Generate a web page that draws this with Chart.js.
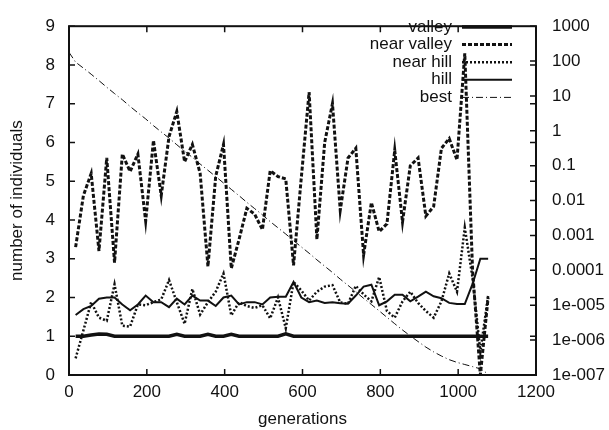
<!DOCTYPE html>
<html>
<head>
<meta charset="utf-8">
<script src="https://cdn.jsdelivr.net/npm/chart.js@4.4.1/dist/chart.umd.min.js"></script>
<style>
  html, body { margin: 0; padding: 0; background: #fff; }
</style>
</head>
<body>
<canvas id="c" width="609" height="430"></canvas>
<script>
// sampled generations (shared by the four population curves)
const generations = [17, 37, 57, 77, 97, 117, 137, 157, 177, 197, 217, 237, 257, 277, 297, 317, 337, 357,
  377, 397, 417, 437, 457, 477, 497, 517, 537, 557, 577, 597, 617, 637, 657, 677, 697, 717,
  737, 757, 777, 797, 817, 837, 857, 877, 897, 917, 937, 957, 977, 997, 1017, 1037, 1057, 1077];

const valley = [1, 1, 1.03, 1.06, 1.05, 1, 1, 1, 1, 1, 1, 1, 1, 1.05, 1, 1, 1, 1.05, 1, 1,
  1.05, 1, 1, 1, 1, 1, 1, 1.06, 1, 1, 1, 1, 1, 1, 1, 1, 1, 1, 1, 1,
  1, 1, 1, 1, 1, 1, 1, 1, 1, 1, 1, 1, 1, 1];

const nearValley = [3.3, 4.63, 5.2, 3.2, 5.6, 2.9, 5.7, 5.25, 5.7, 3.97, 6.05, 4.63, 6.15, 6.8, 5.5, 5.95, 5.2, 2.8,
  5.13, 5.95, 2.75, 3.5, 4.3, 4.15, 3.75, 5.27, 5.12, 5.06, 2.83, 5.1, 7.3, 3.5, 6.0, 7.0, 4.25, 5.6,
  5.85, 3.1, 4.45, 3.7, 3.9, 5.8, 3.95, 5.4, 5.6, 4.1, 4.35, 5.85, 6.1, 5.55, 8.3, 2.7, 0, 2.0];

const nearHill = [0.43, 1.15, 1.88, 1.48, 1.4, 2.34, 1.27, 1.25, 1.82, 1.8, 1.88, 1.95, 2.45, 1.88, 1.32, 2.22, 1.56, 1.88,
  2.15, 2.62, 1.54, 1.88, 1.78, 1.73, 1.8, 1.46, 2.0, 1.21, 2.4, 2.18, 1.92, 2.15, 2.28, 2.32, 1.87, 1.84,
  2.3, 2.08, 1.9, 2.53, 1.65, 1.48, 1.9, 2.15, 1.86, 1.65, 1.48, 1.9, 2.62, 2.15, 3.8, 2.5, 0.6, 2.05];

const hill = [1.55, 1.7, 1.78, 1.97, 2.0, 2.0, 1.82, 1.67, 1.82, 2.05, 1.88, 1.88, 1.75, 1.97, 1.82, 2.05, 1.92, 1.92,
  1.78, 2.0, 2.05, 1.82, 1.88, 1.88, 1.82, 2.0, 2.02, 2.02, 2.4, 2.0, 1.88, 1.92, 1.86, 1.88, 1.85, 1.84,
  2.05, 2.28, 2.33, 1.8, 1.9, 2.07, 2.07, 1.9, 2.02, 2.15, 2.03, 1.98, 1.86, 1.83, 1.83, 2.35, 3.0, 3.0];

// best fitness, right (log) axis
const bestGens = [0, 17, 37, 57, 77, 97, 117, 137, 157, 177, 197, 217, 237, 257, 277, 297, 317, 337, 357,
  377, 397, 417, 437, 457, 477, 497, 517, 537, 557, 577, 597, 617, 637, 657, 677, 697, 717,
  737, 757, 777, 797, 817, 837, 857, 877, 897, 917, 937, 957, 977, 997, 1017, 1037, 1057, 1077];
const best = [178, 93, 63, 42, 27.5, 17.8, 11.7, 7.8, 5.0, 3.3, 2.2, 1.41, 0.93, 0.62, 0.40, 0.26, 0.174, 0.112, 0.074,
  0.049, 0.032, 0.021, 0.0138, 0.0089, 0.0059, 0.0039, 0.0025, 0.00166, 0.0011, 0.00071, 0.00047, 0.00031,
  0.0002, 0.000132, 0.000087, 0.000056, 0.000037, 0.0000245, 0.0000158, 0.0000105, 0.0000069, 0.0000045,
  0.00000295, 0.00000195, 0.00000132, 9.1e-7, 6.3e-7, 4.6e-7, 3.5e-7, 2.75e-7, 2.3e-7, 2.0e-7, 1.74e-7, 1.5e-7, 1.07e-7];

const y2TickValues = [1000, 100, 10, 1, 0.1, 0.01, 0.001, 0.0001, 1e-5, 1e-6, 1e-7];
const y2TickLabels = ['1000', '100', '10', '1', '0.1', '0.01', '0.001', '0.0001', '1e-005', '1e-006', '1e-007'];

const FONT = '"Liberation Sans", Arial, Helvetica, sans-serif';
const INK = '#111';

function pts(xs, ys) {
  return xs.map((x, i) => ({ x: x, y: ys[i] }));
}

// gnuplot style box with inward ticks
const framePlugin = {
  id: 'frame',
  afterDatasetsDraw(chart) {
    const { ctx, chartArea: a, scales } = chart;
    ctx.save();
    ctx.strokeStyle = INK;
    ctx.setLineDash([]);
    ctx.lineWidth = 2;
    ctx.strokeRect(a.left, a.top, a.right - a.left, a.bottom - a.top);
    ctx.lineWidth = 1.5;
    ctx.beginPath();
    scales.x.ticks.forEach(t => {
      const px = scales.x.getPixelForValue(t.value);
      ctx.moveTo(px, a.bottom); ctx.lineTo(px, a.bottom - 6);
      ctx.moveTo(px, a.top); ctx.lineTo(px, a.top + 6);
    });
    scales.y.ticks.forEach(t => {
      const py = scales.y.getPixelForValue(t.value);
      ctx.moveTo(a.left, py); ctx.lineTo(a.left + 6, py);
      ctx.moveTo(a.right, py); ctx.lineTo(a.right - 6, py);
    });
    scales.y2.ticks.forEach(t => {
      const py = scales.y2.getPixelForValue(t.value);
      ctx.moveTo(a.right, py); ctx.lineTo(a.right - 6, py);
    });
    ctx.stroke();
    ctx.restore();
  }
};

// key in the top right corner: text right aligned, sample line after it
const keyPlugin = {
  id: 'key',
  afterDraw(chart) {
    const ctx = chart.ctx;
    ctx.save();
    ctx.font = '17px ' + FONT;
    ctx.fillStyle = INK;
    ctx.strokeStyle = INK;
    ctx.textAlign = 'right';
    ctx.textBaseline = 'middle';
    chart.data.datasets.forEach((ds, i) => {
      const y = 27 + i * 17.6;
      ctx.fillText(ds.label, 452, y);
      ctx.lineWidth = ds.borderWidth;
      ctx.setLineDash(ds.borderDash || []);
      ctx.beginPath();
      ctx.moveTo(462, y);
      ctx.lineTo(512, y);
      ctx.stroke();
    });
    ctx.restore();
  }
};

new Chart(document.getElementById('c'), {
  type: 'line',
  data: {
    datasets: [
      { label: 'valley', data: pts(generations, valley), yAxisID: 'y', borderColor: INK, borderWidth: 3.5, borderDash: [] },
      { label: 'near valley', data: pts(generations, nearValley), yAxisID: 'y', borderColor: INK, borderWidth: 3, borderDash: [4, 2] },
      { label: 'near hill', data: pts(generations, nearHill), yAxisID: 'y', borderColor: INK, borderWidth: 2.5, borderDash: [2, 2] },
      { label: 'hill', data: pts(generations, hill), yAxisID: 'y', borderColor: INK, borderWidth: 2, borderDash: [] },
      { label: 'best', data: pts(bestGens, best), yAxisID: 'y2', borderColor: INK, borderWidth: 1, borderDash: [7, 3, 1, 3] }
    ]
  },
  options: {
    responsive: false,
    animation: false,
    events: [],
    layout: { padding: { top: 15, left: 0, right: 0, bottom: 0 } },
    elements: {
      point: { radius: 0 },
      line: { tension: 0, fill: false, borderCapStyle: 'butt', borderJoinStyle: 'miter' }
    },
    plugins: { legend: { display: false }, tooltip: { enabled: false } },
    scales: {
      x: {
        type: 'linear', min: 0, max: 1200,
        grid: { display: false, drawTicks: false },
        border: { display: false },
        ticks: { stepSize: 200, color: INK, font: { family: FONT, size: 17 }, padding: 7, maxRotation: 0, callback: v => String(v) },
        title: { display: true, text: 'generations', color: INK, font: { family: FONT, size: 17 }, padding: { top: 0, bottom: 0 } },
        afterFit: s => { s.height = 55; }
      },
      y: {
        position: 'left', min: 0, max: 9,
        grid: { display: false, drawTicks: false },
        border: { display: false },
        ticks: { stepSize: 1, color: INK, font: { family: FONT, size: 17 }, padding: 14 },
        title: { display: true, text: 'number of individuals', color: INK, font: { family: FONT, size: 17 }, padding: { top: 7, bottom: 0 } },
        afterFit: s => { s.width = 69; }
      },
      y2: {
        type: 'logarithmic', position: 'right', min: 1e-7, max: 1000,
        grid: { display: false, drawTicks: false },
        border: { display: false },
        afterBuildTicks: s => { s.ticks = y2TickValues.map(v => ({ value: v })); },
        ticks: { color: INK, font: { family: FONT, size: 17 }, padding: 16, callback: (v, i) => y2TickLabels[i] },
        afterFit: s => { s.width = 73; }
      }
    }
  },
  plugins: [framePlugin, keyPlugin]
});
</script>
</body>
</html>
